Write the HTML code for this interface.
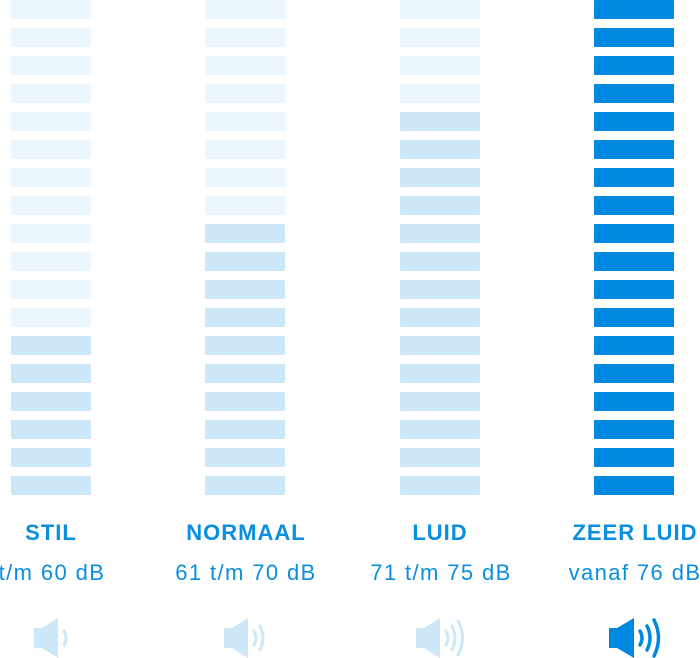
<!DOCTYPE html>
<html><head><meta charset="utf-8"><style>
body{margin:0;width:700px;height:656px;background:#fff;position:relative;overflow:hidden;font-family:"Liberation Sans",sans-serif}
.b{position:absolute;width:80px;height:19px;border-radius:1px}
.p{background:#eaf5fc}.m{background:#cce7f7}.d{background:#0088e0}
.t{position:absolute;width:200px;text-align:center;color:#0a8ee0;white-space:nowrap}
.h{font-weight:bold;font-size:22px;letter-spacing:1px;top:520px}
.s{font-size:22px;letter-spacing:1.4px;top:560px}
svg{position:absolute;top:616px}
</style></head><body>
<div id="bars"></div>
<script>
var cols=[[11,12,'m'],[205,8,'m'],[400,4,'m'],[594,0,'d']],h='';
cols.forEach(function(c){for(var i=0;i<18;i++){h+='<div class="b '+(i<c[1]?'p':c[2])+'" style="left:'+c[0]+'px;top:'+(i*28)+'px"></div>';}});
document.getElementById('bars').innerHTML=h;
</script>
<div class="t h" style="left:-49px">STIL</div>
<div class="t h" style="left:146px">NORMAAL</div>
<div class="t h" style="left:340px">LUID</div>
<div class="t h" style="left:535px">ZEER LUID</div>
<div class="t s" style="left:-48px">t/m 60 dB</div>
<div class="t s" style="left:146px">61 t/m 70 dB</div>
<div class="t s" style="left:341px">71 t/m 75 dB</div>
<div class="t s" style="left:535px">vanaf 76 dB</div>
<svg style="left:34px" width="60" height="42" viewBox="0 0 60 42"><path d="M0 12h8l16-10v40l-16-10h-8z" fill="#cce7f7"/><g fill="none" stroke="#cce7f7" stroke-width="3" stroke-linecap="round"><path d="M30 15q4 7 0 14"/></g></svg>
<svg style="left:224px" width="60" height="42" viewBox="0 0 60 42"><path d="M0 12h8l16-10v40l-16-10h-8z" fill="#cce7f7"/><g fill="none" stroke="#cce7f7" stroke-width="3" stroke-linecap="round"><path d="M30 15q4 7 0 14"/><path d="M36 10q6 12 0 24"/></g></svg>
<svg style="left:416px" width="60" height="42" viewBox="0 0 60 42"><path d="M0 12h8l16-10v40l-16-10h-8z" fill="#cce7f7"/><g fill="none" stroke="#cce7f7" stroke-width="3" stroke-linecap="round"><path d="M30 15q4 7 0 14"/><path d="M36 10q6 12 0 24"/><path d="M42 5q9 17 0 34"/></g></svg>
<svg style="left:609px" width="60" height="42" viewBox="0 0 60 42"><path d="M0 12h8l17-10v40l-17-10h-8z" fill="#0088e0"/><g fill="none" stroke="#0088e0" stroke-width="3.5" stroke-linecap="round"><path d="M31 15q4 7 0 14"/><path d="M38 10q6 12 0 24"/><path d="M45 4q9 18 0 36"/></g></svg>
</body></html>
